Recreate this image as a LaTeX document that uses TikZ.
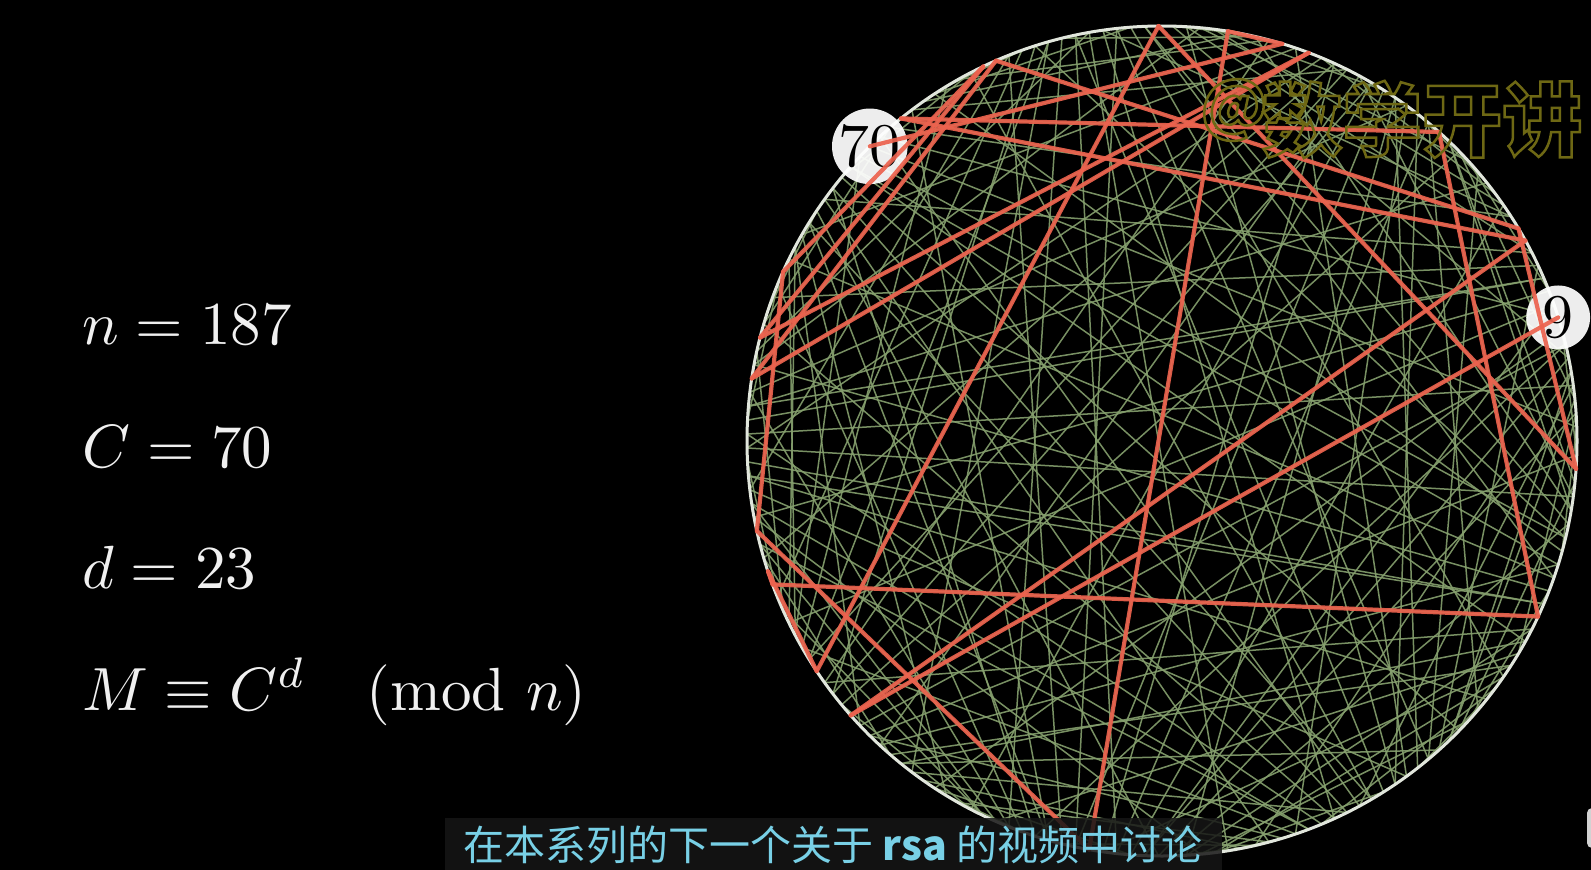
\documentclass[tikz,border=0pt]{standalone}
\usepackage{amsmath}
\usepackage{fontspec}
\newfontfamily\cjk{Noto Sans CJK SC}
\definecolor{chordgreen}{RGB}{134,160,110}
\definecolor{chordred}{RGB}{236,98,78}
\definecolor{ringwhite}{RGB}{225,230,220}
\definecolor{eqwhite}{RGB}{240,240,240}
\definecolor{subcyan}{RGB}{120,208,230}
\definecolor{barcolor}{RGB}{22,22,22}
\definecolor{wmolive}{RGB}{110,104,20}
\definecolor{uigray}{RGB}{210,210,210}
\begin{document}
\begin{tikzpicture}[x=1pt,y=-1pt,
  chord/.style={draw=chordgreen, line width=1.5pt, opacity=0.9},
  redchord/.style={draw=chordred, line width=4.2pt, opacity=0.92, line cap=round},
  ring/.style={draw=ringwhite, line width=3pt},
  numlabel/.style={circle, fill=white, fill opacity=0.93, text opacity=1, inner sep=0pt, text=black, scale=6.2, font=\fontsize{10}{10}\selectfont},
  eq/.style={anchor=base west, inner sep=0pt, text=eqwhite, scale=6.1, font=\fontsize{10}{12}\selectfont},
  subbox/.style={fill=barcolor, fill opacity=0.85, text opacity=1, text=subcyan, minimum width=777pt, minimum height=54pt, inner sep=0pt, font=\cjk\fontsize{41}{41}\selectfont},
  wmark/.style={inner sep=0pt, text=wmolive, font=\cjk\bfseries\fontsize{80}{80}\selectfont}]
\useasboundingbox (0,0) rectangle (1591,870);
\fill[black] (0,0) rectangle (1591,870);
\coordinate (c) at (1162,441);
\foreach \k in {0,...,186}{
  \pgfmathsetmacro\ang{1.9251337*\k}
  \coordinate (p\k) at ({1162+415*cos(\ang)},{441-415*sin(\ang)});
}
% green chords: k -> 70k mod 187
\foreach \k in {1,...,186}{
  \pgfmathtruncatemacro\j{mod(70*\k,187)}
  \draw[chord] (p\k) -- (p\j);
}
\draw[ring] (c) circle[radius=415];
% labels
\node[numlabel, minimum size=12pt] (l70) at (p70) {70};
\node[numlabel, minimum size=10.3pt] (l9) at (p9) {9};
% red path of powers of 70
\foreach \a/\b in {70/38,38/42,42/135,135/100,100/81,81/60,60/86,86/36,36/89,89/59,59/16,16/185,185/47,47/111,111/103,103/104,104/174,174/25,25/67,67/15,15/115,115/9}
  \draw[redchord] (p\a) -- (p\b);
% equations
\node[eq] (eqn) at (81,344) {$n = 187$};
\node[eq] (eqC) at (81,467) {$C = 70$};
\node[eq] (eqd) at (81,588) {$d = 23$};
\node[eq] (eqM) at (81,710) {$M \equiv C^d \quad (\mathrm{mod}\mkern6mu n)$};
% subtitle
\node[subbox] (sub) at (833,845) {在本系列的下一个关于 {\bfseries rsa} 的视频中讨论};
% UI sliver
\begin{scope}
\clip (0,0) rectangle (1591,870);
\fill[uigray, rounded corners=5pt] (1587,808) rectangle (1602,848);
\end{scope}
% watermark
\node[wmark, font=\cjk\bfseries\fontsize{64}{64}\selectfont] (wmat) at (1234,110) {\special{pdf:literal direct 1 Tr 2.5 w}@\special{pdf:literal direct 0 Tr}};
\node[wmark, anchor=base west] (wm) at (1262,150) {\special{pdf:literal direct 1 Tr 2.5 w}数学开讲\special{pdf:literal direct 0 Tr}};
\end{tikzpicture}
\end{document}
